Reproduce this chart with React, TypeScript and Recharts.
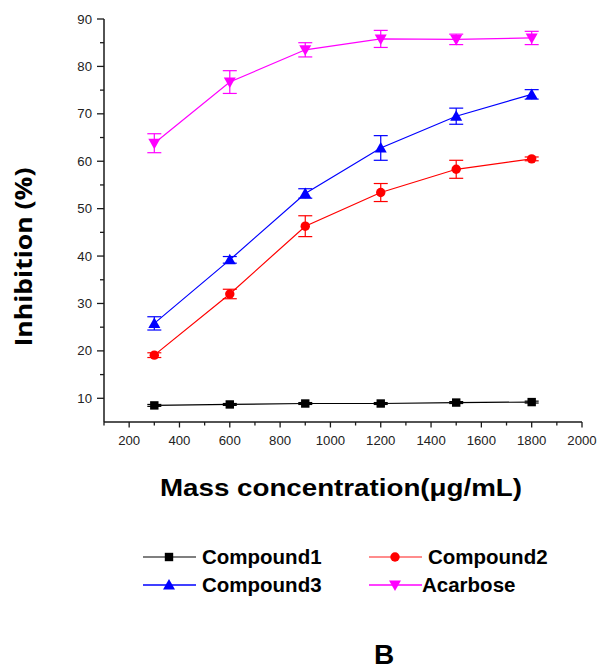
import React from 'react';
import { LineChart, Line, XAxis, YAxis, ErrorBar } from 'recharts';

const xValues = [300, 600, 900, 1200, 1500, 1800];
const compound1 = [8.5, 8.7, 8.9, 8.9, 9.1, 9.2];
const compound1Err = [0.2, 0.2, 0.2, 0.2, 0.2, 0.2];
const compound2 = [19.1, 32.0, 46.3, 53.4, 58.3, 60.5];
const compound2Err = [0.5, 1.0, 2.2, 1.9, 1.9, 0.4];
const compound3 = [25.8, 39.2, 53.2, 62.8, 69.5, 74.1];
const compound3Err = [1.4, 0.7, 1.0, 2.6, 1.7, 1.0];
const acarbose = [63.8, 76.7, 83.5, 85.8, 85.7, 86.0];
const acarboseErr = [2.0, 2.4, 1.5, 1.8, 1.1, 1.4];

const xMajorTicks = [200, 400, 600, 800, 1000, 1200, 1400, 1600, 1800, 2000];
const xMinorTicks = [100, 300, 500, 700, 900, 1100, 1300, 1500, 1700, 1900];
const yMajorTicks = [10, 20, 30, 40, 50, 60, 70, 80, 90];
const yMinorTicks = [15, 25, 35, 45, 55, 65, 75, 85];

const xTitle = 'Mass concentration(\u03bcg/mL)';
const yTitle = 'Inhibition (%)';
const panelLabel = 'B';

type Shape = 'square' | 'circle' | 'triangleUp' | 'triangleDown';

const series = [
  { name: 'Compound1', values: compound1, errors: compound1Err, color: '#000000', legendLine: '#555555', shape: 'square' as Shape },
  { name: 'Compound2', values: compound2, errors: compound2Err, color: '#FF0000', legendLine: '#FF6666', shape: 'circle' as Shape },
  { name: 'Compound3', values: compound3, errors: compound3Err, color: '#0000FF', legendLine: '#0000FF', shape: 'triangleUp' as Shape },
  { name: 'Acarbose', values: acarbose, errors: acarboseErr, color: '#FF00FF', legendLine: '#FF00FF', shape: 'triangleDown' as Shape },
];

const buildData = (vals: number[], errs: number[]) =>
  xValues.map((x, i) => ({ x, y: vals[i], err: errs[i] }));

function Marker({ cx, cy, shape, color }: { cx: number; cy: number; shape: Shape; color: string }) {
  if (cx == null || cy == null) return null;
  if (shape === 'square') {
    return <rect x={cx - 4.2} y={cy - 4.2} width={8.4} height={8.4} fill={color} />;
  }
  if (shape === 'circle') {
    return <circle cx={cx} cy={cy} r={4.7} fill={color} />;
  }
  if (shape === 'triangleUp') {
    return <polygon points={`${cx},${cy - 6} ${cx - 6},${cy + 4.5} ${cx + 6},${cy + 4.5}`} fill={color} />;
  }
  return <polygon points={`${cx},${cy + 6} ${cx - 6},${cy - 4.5} ${cx + 6},${cy - 4.5}`} fill={color} />;
}

const axisColor = '#1a1a1a';
const tickFont = '"Liberation Sans", Arial, sans-serif';

function XTick(props: any) {
  const { x, y, payload } = props;
  const major = xMajorTicks.includes(payload.value);
  return (
    <g>
      <line x1={x} x2={x} y1={y} y2={y + (major ? 5.5 : 3.5)} stroke={axisColor} strokeWidth={1.3} />
      {major && (
        <text x={x} y={y + 23} textAnchor="middle" fontSize={13.2} fontFamily={tickFont} fill="#222">
          {payload.value}
        </text>
      )}
    </g>
  );
}

function YTick(props: any) {
  const { x, y, payload } = props;
  const major = yMajorTicks.includes(payload.value);
  return (
    <g>
      <line x1={x} x2={x - (major ? 7 : 4)} y1={y} y2={y} stroke={axisColor} strokeWidth={1.3} />
      {major && (
        <text x={x - 12} y={y + 4.5} textAnchor="end" fontSize={13.2} fontFamily={tickFont} fill="#222">
          {payload.value}
        </text>
      )}
    </g>
  );
}

const legendPos = [
  { lx: 143, ty: 564, tx: 202 },
  { lx: 369, ty: 564, tx: 428 },
  { lx: 143, ty: 592, tx: 202 },
  { lx: 369, ty: 592, tx: 422 },
];

export default function App() {
  const boldFont = '"Liberation Sans", Arial, sans-serif';
  return (
    <div style={{ position: 'absolute', left: 0, top: 0, width: 598, height: 671, background: '#fff' }}>
      <LineChart width={598} height={671} margin={{ top: 19, right: 16, left: 44, bottom: 219 }}>
        <XAxis
          type="number"
          dataKey="x"
          domain={[100, 2000]}
          ticks={[...xMinorTicks, ...xMajorTicks].sort((a, b) => a - b)}
          interval={0}
          tickLine={false}
          tickSize={0}
          tickMargin={0}
          height={30}
          axisLine={{ stroke: axisColor, strokeWidth: 1.5 }}
          tick={<XTick />}
          allowDataOverflow
        />
        <YAxis
          type="number"
          domain={[5, 90]}
          ticks={[...yMinorTicks, ...yMajorTicks].sort((a, b) => a - b)}
          interval={0}
          tickLine={false}
          tickSize={0}
          tickMargin={0}
          width={60}
          axisLine={{ stroke: axisColor, strokeWidth: 1.5 }}
          tick={<YTick />}
          allowDataOverflow
        />
        {series.map((s) => (
          <Line
            key={s.name}
            name={s.name}
            data={buildData(s.values, s.errors)}
            dataKey="y"
            stroke={s.color}
            strokeWidth={1.2}
            isAnimationActive={false}
            dot={(p: any) => <Marker key={`${s.name}-${p.index}`} cx={p.cx} cy={p.cy} shape={s.shape} color={s.color} />}
            activeDot={false}
          >
            <ErrorBar dataKey="err" direction="y" width={7} stroke={s.color} strokeWidth={1.2} isAnimationActive={false} />
          </Line>
        ))}
        <text
          x={32}
          y={257}
          transform="rotate(-90, 32, 257)"
          textAnchor="middle"
          fontSize={23}
          fontWeight={700}
          fontFamily='"Open Sans", sans-serif'
          textLength={179}
          lengthAdjust="spacingAndGlyphs"
          fill="#000"
        >
          {yTitle}
        </text>
        <text
          x={341}
          y={496}
          textAnchor="middle"
          fontSize={24.5}
          fontWeight={700}
          fontFamily={boldFont}
          textLength={362}
          lengthAdjust="spacingAndGlyphs"
          fill="#000"
        >
          {xTitle}
        </text>
        {series.map((s, i) => {
          const p = legendPos[i];
          const cy = p.ty - 7;
          return (
            <g key={`leg-${s.name}`}>
              <line x1={p.lx} x2={p.lx + 53} y1={cy} y2={cy} stroke={s.legendLine} strokeWidth={1.5} />
              <Marker cx={p.lx + 26} cy={cy} shape={s.shape} color={s.color} />
              <text x={p.tx} y={p.ty} fontSize={20.5} fontWeight={700} fontFamily={boldFont} fill="#000">
                {s.name}
              </text>
            </g>
          );
        })}
        <text x={384} y={664} textAnchor="middle" fontSize={28} fontWeight={700} fontFamily={boldFont} fill="#000">
          {panelLabel}
        </text>
      </LineChart>
    </div>
  );
}
